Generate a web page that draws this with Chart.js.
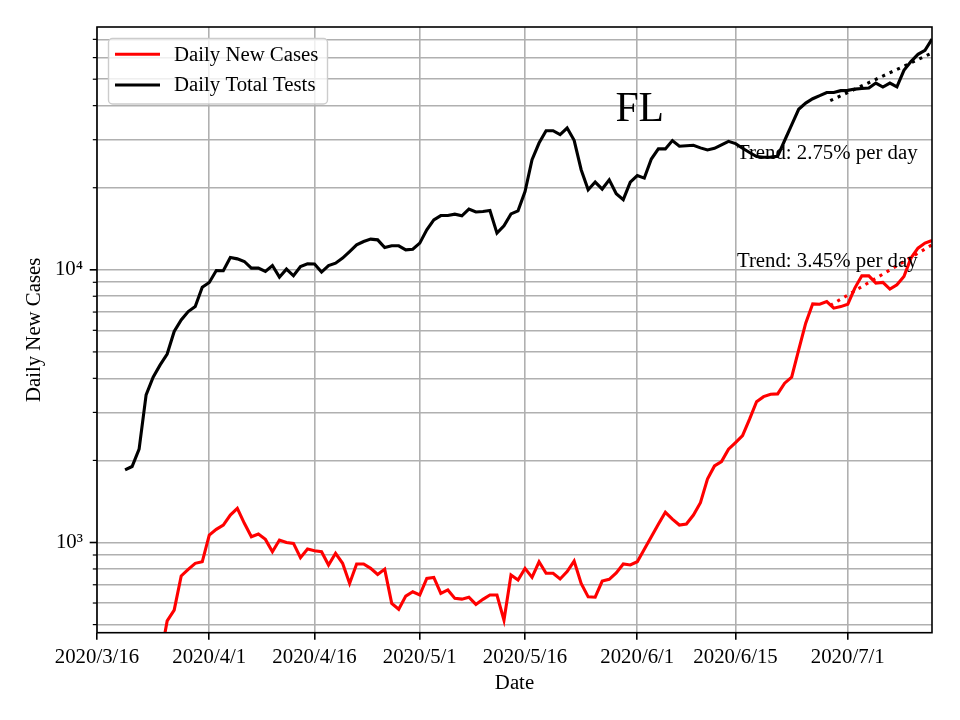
<!DOCTYPE html>
<html lang="en">
<head>
    <meta charset="UTF-8">
    <title>FL - Daily New Cases and Daily Total Tests</title>
    <script src="https://cdn.jsdelivr.net/npm/chart.js"></script>
    <style>
        body { margin: 0; background: #fff; }
        #wrap { width: 960px; height: 720px; }
    </style>
</head>
<body>
<div id="wrap"><canvas id="myChart" width="960" height="720"></canvas></div>

<script>
    // days are counted from 2020/3/16 (day 0); the series start on 2020/3/20
    var firstDay = 4;

    var dailyTests = [
        1845, 1900, 2200, 3480, 4040, 4480, 4910, 5940, 6550, 7030, 7330, 8640,
        8990, 9940, 9920, 11100, 10970, 10730, 10140, 10140, 9860, 10370, 9400, 10060,
        9510, 10280, 10520, 10500, 9810, 10370, 10580, 11040, 11670, 12350, 12700, 12960,
        12880, 12070, 12250, 12250, 11840, 11900, 12530, 14020, 15250, 15810, 15810, 16000,
        15780, 16700, 16290, 16360, 16500, 13630, 14500, 16040, 16460, 19360, 25330, 29170,
        32370, 32370, 31300, 33100, 29840, 23290, 19670, 20980, 19780, 21380, 19000, 18080,
        20980, 22160, 21690, 25480, 27760, 27760, 29770, 28380, 28500, 28620, 28000, 27500,
        27900, 28730, 29580, 29030, 27900, 26930, 26040, 25880, 25900, 26100, 29800, 34000,
        38800, 40880, 42400, 43500, 44700, 44700, 45400, 45500, 46000, 46200, 46400, 48400,
        46800, 48400, 46900, 53900, 58000, 61700, 63800, 70200
    ];

    var dailyCases = [
        130, 170, 230, 270, 300, 373, 516, 565, 754, 797, 839, 850,
        1065, 1118, 1159, 1261, 1335, 1176, 1050, 1074, 1027, 925, 1021, 1000,
        993, 880, 946, 933, 925, 827, 913, 839, 708, 834, 834, 804,
        764, 799, 598, 569, 636, 660, 642, 739, 745, 651, 670, 624,
        620, 630, 593, 619, 642, 642, 519, 760, 729, 804, 745, 850,
        771, 771, 735, 782, 855, 708, 632, 630, 722, 733, 774, 834,
        827, 850, 944, 1050, 1166, 1291, 1219, 1159, 1169, 1261, 1400, 1710,
        1909, 1980, 2198, 2326, 2466, 2833, 3286, 3428, 3499, 3508, 3840, 4039,
        5082, 6375, 7503, 7480, 7651, 7235, 7330, 7480, 8570, 9505, 9505, 8940,
        8990, 8495, 8810, 9450, 11040, 12010, 12530, 12810
    ];

    // fitted trends (end points only, straight on the log axis)
    var testTrendDays = [104.5, 119];
    var testTrendValues = [41700, 62400];
    var caseTrendDays = [104.5, 119];
    var caseTrendValues = [7400, 12350];

    var xTickDays = [0, 16, 31, 46, 61, 77, 91, 107];
    var xTickLabels = ['2020/3/16', '2020/4/1', '2020/4/16', '2020/5/1', '2020/5/16', '2020/6/1', '2020/6/15', '2020/7/1'];

    var yTickValues = [500, 600, 700, 800, 900, 1000, 2000, 3000, 4000, 5000, 6000, 7000, 8000, 9000,
        10000, 20000, 30000, 40000, 50000, 60000, 70000];
    var yMajorValues = [1000, 10000];
    var yMajorLabels = ['10\u00B3', '10\u2074'];

    var serif = '"Liberation Serif", "Times New Roman", Times, serif';
    var font = { family: serif, size: 20.8 };

    function toPoints(days0, values) {
        var pts = [];
        for (var i = 0; i < values.length; i++) {
            pts.push({ x: days0 + i, y: values[i] });
        }
        return pts;
    }
    function pairPoints(days, values) {
        return days.map(function(d, i) { return { x: d, y: values[i] }; });
    }

    // frame, y tick marks, legend and the text annotations
    var extras = {
        id: 'extras',
        afterDatasetsDraw: function(chart) {
            var ctx = chart.ctx;
            var area = chart.chartArea;
            var xs = chart.scales.x, ys = chart.scales.y;

            ctx.save();
            // annotations
            ctx.fillStyle = '#000';
            ctx.font = '41.7px ' + serif;
            ctx.textAlign = 'center';
            ctx.textBaseline = 'alphabetic';
            ctx.fillText('FL', area.left + 0.65 * (area.right - area.left), 121);

            ctx.font = '20.8px ' + serif;
            ctx.textAlign = 'left';
            ctx.fillText('Trend: 2.75% per day', xs.getPixelForValue(91.2), ys.getPixelForValue(25500));
            ctx.fillText('Trend: 3.45% per day', xs.getPixelForValue(91.2), ys.getPixelForValue(10200));

            // legend
            var bx = 108.5, by = 38.5, bw = 219, bh = 65.5, r = 4;
            ctx.beginPath();
            ctx.moveTo(bx + r, by);
            ctx.arcTo(bx + bw, by, bx + bw, by + bh, r);
            ctx.arcTo(bx + bw, by + bh, bx, by + bh, r);
            ctx.arcTo(bx, by + bh, bx, by, r);
            ctx.arcTo(bx, by, bx + bw, by, r);
            ctx.closePath();
            ctx.fillStyle = 'rgba(255,255,255,0.8)';
            ctx.fill();
            ctx.strokeStyle = '#cccccc';
            ctx.lineWidth = 1.4;
            ctx.stroke();

            var rows = [54.3, 85];
            ctx.textBaseline = 'middle';
            for (var i = 0; i < 2; i++) {
                var ds = chart.data.datasets[i];
                ctx.beginPath();
                ctx.moveTo(115, rows[i]);
                ctx.lineTo(160, rows[i]);
                ctx.strokeStyle = ds.borderColor;
                ctx.lineWidth = 3.1;
                ctx.stroke();
                ctx.fillStyle = '#000';
                ctx.fillText(ds.label, 174, rows[i] + 1);
            }
            ctx.restore();
        },
        afterDraw: function(chart) {
            var ctx = chart.ctx;
            var area = chart.chartArea;
            var ys = chart.scales.y;
            ctx.save();
            ctx.strokeStyle = '#000';
            yTickValues.forEach(function(v) {
                var y = ys.getPixelForValue(v);
                var major = yMajorValues.indexOf(v) >= 0;
                ctx.beginPath();
                ctx.lineWidth = major ? 1.6 : 1.2;
                ctx.moveTo(area.left - (major ? 7.3 : 4.2), y);
                ctx.lineTo(area.left, y);
                ctx.stroke();
            });
            ctx.lineWidth = 1.6;
            ctx.strokeRect(area.left, area.top, area.right - area.left, area.bottom - area.top);
            ctx.restore();
        }
    };

    var ctx = document.getElementById('myChart').getContext('2d');
    var myChart = new Chart(ctx, {
        type: 'line',
        data: {
            datasets: [{
                label: 'Daily New Cases',
                data: toPoints(firstDay, dailyCases),
                borderColor: '#ff0000',
                borderWidth: 3.1,
                pointRadius: 0,
                order: 3
            }, {
                label: 'Daily Total Tests',
                data: toPoints(firstDay, dailyTests),
                borderColor: '#000000',
                borderWidth: 3.1,
                pointRadius: 0,
                order: 2
            }, {
                label: 'test trend',
                data: pairPoints(testTrendDays, testTrendValues),
                borderColor: '#000000',
                borderWidth: 3.1,
                borderDash: [3.1, 5.1],
                pointRadius: 0,
                order: 1
            }, {
                label: 'case trend',
                data: pairPoints(caseTrendDays, caseTrendValues),
                borderColor: '#ff0000',
                borderWidth: 3.1,
                borderDash: [3.1, 5.1],
                pointRadius: 0,
                order: 0
            }]
        },
        options: {
            responsive: false,
            devicePixelRatio: 1,
            animation: false,
            layout: { padding: { left: 0, right: 28, top: 27, bottom: 0 } },
            plugins: { legend: { display: false }, tooltip: { enabled: false } },
            scales: {
                x: {
                    type: 'linear',
                    min: 0,
                    max: 119,
                    afterBuildTicks: function(s) { s.ticks = xTickDays.map(function(d) { return { value: d }; }); },
                    afterFit: function(s) { s.height = 87.3; },
                    ticks: {
                        autoSkip: false, maxRotation: 0, color: '#000', font: font, padding: 5,
                        callback: function(v, i) { return xTickLabels[i]; }
                    },
                    grid: { color: '#b0b0b0', lineWidth: 1.6, drawTicks: true, tickLength: 7, tickColor: '#000', tickWidth: 1.6 },
                    border: { display: false },
                    title: { display: true, text: 'Date', color: '#000', font: font, padding: { top: 0, bottom: 23.5 } }
                },
                y: {
                    type: 'logarithmic',
                    min: 467,
                    max: 77700,
                    afterBuildTicks: function(s) { s.ticks = yTickValues.map(function(v) { return { value: v }; }); },
                    afterFit: function(s) { s.width = 97; },
                    ticks: {
                        color: '#000', font: font, padding: 14, autoSkip: false,
                        callback: function(v) {
                            var k = yMajorValues.indexOf(v);
                            return k >= 0 ? yMajorLabels[k] : '';
                        }
                    },
                    grid: { color: '#b0b0b0', lineWidth: 1.6, drawTicks: false },
                    border: { display: false },
                    title: { display: true, text: 'Daily New Cases', color: '#000', font: font, padding: { top: 22, bottom: 0 } }
                }
            }
        },
        plugins: [extras]
    });
</script>
</body>
</html>
